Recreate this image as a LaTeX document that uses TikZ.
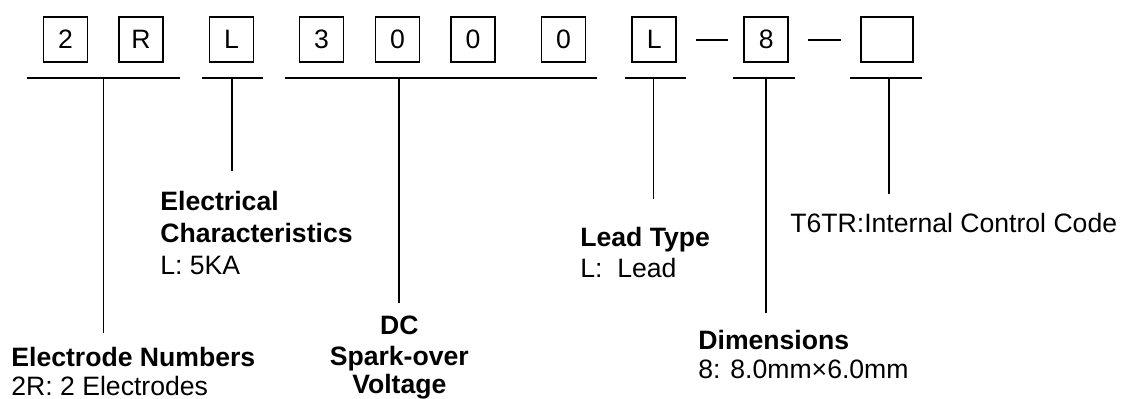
\documentclass[tikz,border=0pt]{standalone}
\usepackage{fontspec}
\setmainfont{Liberation Sans}
\usetikzlibrary{positioning, calc}
\tikzset{
    digit/.style={draw, line width=0.9pt, minimum width=22pt, minimum height=22.5pt, inner sep=0pt, font=\fontsize{13.3}{16}\selectfont},
    rule/.style={line width=0.9pt},
    title/.style={anchor=base west, inner sep=0pt, font=\fontsize{13.3}{16}\selectfont\bfseries},
    value/.style={anchor=base west, inner sep=0pt, font=\fontsize{13.3}{16}\selectfont},
}

\begin{document}
\begin{tikzpicture}[x=0.5pt, y=-0.5pt]
    \useasboundingbox (0,0) rectangle (1129,398);

    % code boxes
    \node[digit] (c2) at (65.5,39.7) {2};
    \node[digit] (cR) at (141,39.7) {R};
    \node[digit] (cL) at (231.5,39.7) {L};
    \node[digit] (v3) at (321.5,39.7) {3};
    \node[digit] (v0a) at (397.5,39.7) {0};
    \node[digit] (v0b) at (473,39.7) {0};
    \node[digit] (v0c) at (563.5,39.7) {0};
    \node[digit] (lt) at (654.3,39.7) {L};
    \node[digit] (dm) at (766.3,39.7) {8};
    \node[digit, minimum width=26pt] (ic) at (886.7,39.7) {};

    \draw[rule, shorten <=9.3pt, shorten >=7.6pt] (lt) -- (dm);
    \draw[rule, shorten <=9.6pt, shorten >=9.6pt] (dm) -- (ic);

    % underlines and leaders
    \coordinate (u1a) at (27.3,77.7);
    \coordinate (u1b) at (180,77.7);
    \coordinate (t1) at (103.5,77.7);
    \coordinate (e1) at (103.5,333);
    \draw[rule] (u1a) -- (u1b);
    \draw[rule] (t1) -- (e1);

    \coordinate (u2a) at (202,77.7);
    \coordinate (u2b) at (262.5,77.7);
    \coordinate (t2) at (232,77.7);
    \coordinate (e2) at (232,170.7);
    \draw[rule] (u2a) -- (u2b);
    \draw[rule] (t2) -- (e2);

    \coordinate (u3a) at (284.6,77.7);
    \coordinate (u3b) at (597.3,77.7);
    \coordinate (t3) at (399.3,77.7);
    \coordinate (e3) at (399.3,303);
    \draw[rule] (u3a) -- (u3b);
    \draw[rule] (t3) -- (e3);

    \coordinate (u4a) at (625,77.7);
    \coordinate (u4b) at (686.3,77.7);
    \coordinate (t4) at (653.5,77.7);
    \coordinate (e4) at (653.5,199);
    \draw[rule] (u4a) -- (u4b);
    \draw[rule] (t4) -- (e4);

    \coordinate (u5a) at (733.4,77.7);
    \coordinate (u5b) at (794.8,77.7);
    \coordinate (t5) at (766,77.7);
    \coordinate (e5) at (766,313);
    \draw[rule] (u5a) -- (u5b);
    \draw[rule] (t5) -- (e5);

    \coordinate (u6a) at (850.3,77.7);
    \coordinate (u6b) at (921.8,77.7);
    \coordinate (t6) at (888.7,77.7);
    \coordinate (e6) at (888.7,194);
    \draw[rule] (u6a) -- (u6b);
    \draw[rule] (t6) -- (e6);

    % labels
    \node[title] (en1) at (11,366) {Electrode Numbers};
    \node[value] (en2) at (11,395) {2R: 2 Electrodes};

    \node[title] (ec1) at (160,210.5) {Electrical};
    \node[title] (ec2) at (160,242) {Characteristics};
    \node[value] (ec3) at (160,274) {L: 5KA};

    \node[title, anchor=base] (dc1) at (399.3,334) {DC};
    \node[title, anchor=base] (dc2) at (399.3,365) {Spark-over};
    \node[title, anchor=base] (dc3) at (399.3,393) {Voltage};

    \node[title] (ld1) at (580,246) {Lead Type};
    \node[value] (ld2) at (580,277) {L:\ \ Lead};

    \node[title] (dim1) at (698,349) {Dimensions};
    \node[value] (dim2) at (698,378) {8: 8.0mm×6.0mm};

    \node[value] (ctl) at (790,232.5) {T6TR:Internal Control Code};
\end{tikzpicture}
\end{document}
